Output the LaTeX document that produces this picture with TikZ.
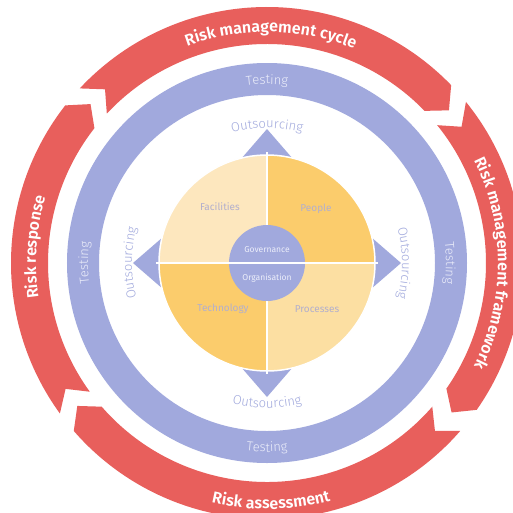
\documentclass[tikz,border=0pt]{standalone}
\usepackage{fontspec}
\setmainfont{Fira Sans}[BoldFont={Fira Sans SemiBold}]
\newfontfamily\leggero{Fira Sans Light}
\usepackage{xcolor}
\usetikzlibrary{decorations.text}
\definecolor{rosso}{RGB}{232,95,92}
\definecolor{lilla}{RGB}{161,169,221}
\definecolor{lillachiaro}{RGB}{236,238,250}
\definecolor{gialloA}{RGB}{253,231,190}
\definecolor{gialloB}{RGB}{251,204,108}
\definecolor{gialloC}{RGB}{252,223,162}
\definecolor{grigio}{RGB}{178,175,205}
\newcommand{\fontRischio}{\bfseries\fontsize{16}{18}\selectfont}
\newcommand{\fontAnello}{\leggero\fontsize{13}{15}\selectfont}
% freccia circolare: #1 angolo iniziale, #2 angolo finale
\newcommand{\frecciaRossa}[2]{
\fill[rosso] (#1:\Rout pt) arc[start angle=#1, end angle=#2, radius=\Rout pt]
  -- ({#2-\punta}:\Rmid pt) -- (#2:\Rin pt)
  arc[start angle=#2, end angle=#1, radius=\Rin pt]
  -- ({#1-\punta}:\Rmid pt) -- cycle;
}
% testo lungo un arco: raggio, inizio, fine, font, colore, testo
\newcommand{\testoArco}[6]{
\path[decorate, decoration={text along path, text align=center, text color=#5, text={|#4|#6}}]
  (#2:#1pt) arc[start angle=#2, end angle=#3, radius=#1pt];
}

\begin{document}
\begin{tikzpicture}[x=1pt, y=1pt]
    % Parametri
    \pgfmathsetmacro{\Rout}{256}
    \pgfmathsetmacro{\Rin}{219}
    \pgfmathsetmacro{\Rmid}{237.5}
    \pgfmathsetmacro{\punta}{4}
    \pgfmathsetmacro{\Tout}{200}
    \pgfmathsetmacro{\Tin}{168}
    \pgfmathsetmacro{\Rc}{108}
    \pgfmathsetmacro{\rc}{38}
    % Cornice
    \useasboundingbox (-267,-249) rectangle (246,263);
    \clip (-267,-249) rectangle (246,263);
    \fill[white] (-267,-249) rectangle (246,263);
    % Frecce rosse
    \frecciaRossa{137}{44}
    \frecciaRossa{39}{-35}
    \frecciaRossa{-41}{-139}
    \frecciaRossa{-144}{-218}
    \testoArco{231}{179}{-1}{\fontRischio}{white}{Risk management cycle}
    \testoArco{231}{90}{-90}{\fontRischio}{white}{Risk management framework}
    \testoArco{246}{-179}{1}{\fontRischio}{white}{Risk assessment}
    \testoArco{231}{266}{86}{\fontRischio}{white}{Risk response}
    % Anello Testing
    \fill[lilla, even odd rule] (0,0) circle[radius=\Tout pt] circle[radius=\Tin pt];
    \testoArco{179}{180}{0}{\fontAnello}{lillachiaro}{Testing}
    \testoArco{179}{90}{-90}{\fontAnello}{lillachiaro}{Testing}
    \testoArco{189}{-180}{0}{\fontAnello}{lillachiaro}{Testing}
    \testoArco{179}{270}{90}{\fontAnello}{lillachiaro}{Testing}
    % Outsourcing
    \fill[lilla] (0,134) -- (-26,104) -- (26,104) -- cycle;
    \fill[lilla] (134,0) -- (104,26) -- (104,-26) -- cycle;
    \fill[lilla] (0,-134) -- (26,-104) -- (-26,-104) -- cycle;
    \fill[lilla] (-134,0) -- (-104,-26) -- (-104,26) -- cycle;
    \testoArco{135}{180}{0}{\fontAnello}{lilla}{Outsourcing}
    \testoArco{135}{90}{-90}{\fontAnello}{lilla}{Outsourcing}
    \testoArco{145}{-180}{0}{\fontAnello}{lilla}{Outsourcing}
    \testoArco{135}{270}{90}{\fontAnello}{lilla}{Outsourcing}
    % Quadranti
    \fill[gialloA] (0,0) -- (90:\Rc pt) arc[start angle=90, end angle=180, radius=\Rc pt] -- cycle;
    \fill[gialloB] (0,0) -- (0:\Rc pt) arc[start angle=0, end angle=90, radius=\Rc pt] -- cycle;
    \fill[gialloB] (0,0) -- (180:\Rc pt) arc[start angle=180, end angle=270, radius=\Rc pt] -- cycle;
    \fill[gialloC] (0,0) -- (270:\Rc pt) arc[start angle=270, end angle=360, radius=\Rc pt] -- cycle;
    \draw[white, line width=1.5pt] (0,0) circle[radius=\Rc pt];
    \draw[white, line width=2pt] (0,-111) -- (0,111);
    \node[grigio, font=\fontsize{10}{12}\selectfont] (facilities) at (-47,56) {Facilities};
    \node[grigio, font=\fontsize{10}{12}\selectfont] (people) at (49,54) {People};
    \node[grigio, font=\fontsize{10}{12}\selectfont] (technology) at (-44,-46) {Technology};
    \node[grigio, font=\fontsize{10}{12}\selectfont] (processes) at (50,-46) {Processes};
    % Centro
    \fill[lilla] (0,0) circle[radius=\rc pt];
    \draw[white, line width=2pt] (-111,0) -- (111,0);
    \node[lillachiaro, font=\fontsize{8.5}{10}\selectfont] (governance) at (0,13) {Governance};
    \node[lillachiaro, font=\fontsize{8.5}{10}\selectfont] (organisation) at (0,-15) {Organisation};
\end{tikzpicture}
\end{document}
